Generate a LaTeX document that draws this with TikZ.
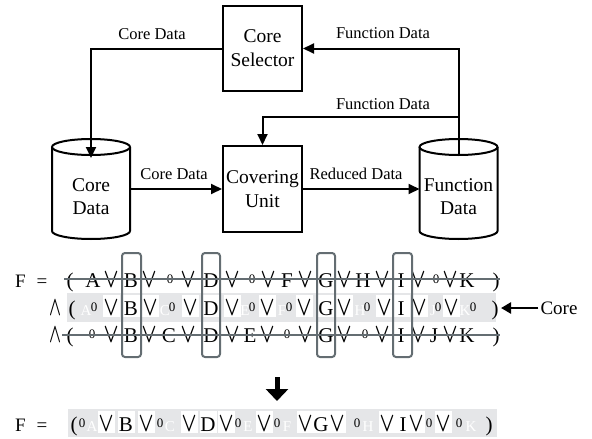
\documentclass[tikz,border=0pt]{standalone}
\usepackage{fontspec}
\setmainfont{Liberation Serif}
\usepackage{graphicx}
\usetikzlibrary{arrows.meta}
\definecolor{lgray}{RGB}{100,109,114}
\definecolor{bandgray}{RGB}{229,230,232}
\newcommand\orsym{\resizebox{15pt}{15pt}{\boldmath$\vee$}}
\newcommand\andsym{\resizebox{12pt}{15pt}{\boldmath$\wedge$}}
\newcommand\TK[4]{\node[#1] (#2) at (#3,\rowb) {#4};}
\newcommand\ZR[2]{\node[zero] (#1) at (#2,\rowm) {0};}
\begin{document}
\begin{tikzpicture}[x=1pt,y=-1pt,
  lbl/.style={font=\fontsize{16.5}{18}\selectfont, inner sep=0pt},
  procbox/.style={draw, line width=2pt, minimum width=79pt, minimum height=85pt, align=center, font=\fontsize{19.5}{24}\selectfont, inner sep=0pt},
  cyltxt/.style={align=center, font=\fontsize{19.5}{23}\selectfont, inner sep=0pt},
  conn/.style={line width=2pt, -{Triangle[length=11pt,width=10pt]}},
  cyl/.style={line width=2pt},
  tok/.style={font=\fontsize{21}{21}\selectfont, inner sep=0pt, anchor=base},
  feq/.style={font=\fontsize{19}{19}\selectfont, inner sep=0pt, anchor=base west},
  keep/.style={tok, fill=white, text height=20pt, text depth=2pt, minimum width=17pt},
  zero/.style={font=\fontsize{13}{13}\selectfont, inner sep=0pt, anchor=center},
  ghost/.style={font=\fontsize{15}{15}\selectfont, inner sep=0pt, anchor=base, text=white},
  strike/.style={draw=lgray, line width=1.5pt},
  corebox/.style={draw=lgray, line width=2pt, rounded corners=3pt},
  corelbl/.style={font=\fontsize{19}{19}\selectfont, inner sep=2pt},
  corearr/.style={line width=2.5pt, -{Triangle[length=10pt,width=11pt]}},
  bigarr/.style={line width=5pt, -{Triangle[length=12pt,width=22pt]}}
]
\useasboundingbox (0,0) rectangle (592,439);

% ---------- top block diagram ----------
\node[procbox] (sel) at (262.5,48.5) {Core\\Selector};
\node[procbox, minimum height=86pt] (cov) at (262.5,189) {Covering\\Unit};

% Core Data cylinder
\draw[cyl] (91,147) ellipse [x radius=39pt, y radius=8pt];
\draw[cyl] (52,147) -- (52,231) arc[start angle=180,end angle=360,x radius=39pt,y radius=8pt] -- (130,147);
\node[cyltxt] (cdtext) at (91,197) {Core\\Data};

% Function Data cylinder
\draw[cyl] (458.5,147) ellipse [x radius=39pt, y radius=8pt];
\draw[cyl] (419.5,147) -- (419.5,231) arc[start angle=180,end angle=360,x radius=39pt,y radius=8pt] -- (497.5,147);
\node[cyltxt] (fdtext) at (458.5,197) {Function\\Data};

\coordinate (cdin) at (91,158);
\coordinate (cdout) at (130,189);
\coordinate (fdin) at (419.5,189);
\coordinate (fdtop) at (458.5,155);
\coordinate (fdsplit) at (458.5,117);

\draw[conn] (sel.west) -| (cdin);
\draw[conn] (fdtop) |- (sel.east);
\draw[conn] (fdsplit) -| (cov.north);
\draw[conn] (cdout) -- (cov.west);
\draw[conn] (cov.east) -- (fdin);

\node[lbl] (l1) at (152,34) {Core Data};
\node[lbl] (l2) at (383,33) {Function Data};
\node[lbl] (l3) at (383,104) {Function Data};
\node[lbl] (l4) at (174,174) {Core Data};
\node[lbl] (l5) at (356,174) {Reduced Data};

% ---------- bands ----------
\fill[bandgray] (67,293) rectangle (496,322);
\fill[bandgray] (68,409) rectangle (497,437);

% ---------- row 1 ----------
\def\rowb{287}\def\rowm{279.5}
\node[feq] (f1) at (15,\rowb) {F\hspace{11pt}=};
\TK{tok}{a1}{70}{(}
\TK{tok}{a2}{93}{A}
\TK{tok}{a3}{111}{\orsym}
\TK{tok}{a4}{131}{B}
\TK{tok}{a5}{149}{\orsym}
\ZR{a6}{170}
\TK{tok}{a7}{188}{\orsym}
\TK{tok}{a8}{211}{D}
\TK{tok}{a9}{232}{\orsym}
\ZR{a10}{252}
\TK{tok}{a11}{268}{\orsym}
\TK{tok}{a12}{287}{F}
\TK{tok}{a13}{305}{\orsym}
\TK{tok}{a14}{326}{G}
\TK{tok}{a15}{344}{\orsym}
\TK{tok}{a16}{363}{H}
\TK{tok}{a17}{382}{\orsym}
\TK{tok}{a18}{401}{I}
\TK{tok}{a19}{418}{\orsym}
\ZR{a20}{436}
\TK{tok}{a21}{450}{\orsym}
\TK{tok}{a22}{467}{K}
\TK{tok}{a23}{496}{)}

% ---------- row 2 ----------
\def\rowb{315}\def\rowm{307.5}
\TK{tok}{b0}{55}{\andsym}
\TK{tok}{b1}{72}{(}
\TK{ghost}{b2}{86}{A}\ZR{b3}{94}
\TK{keep}{b4}{111}{\orsym}
\TK{keep}{b5}{131}{B}
\TK{keep}{b6}{150}{\orsym}
\TK{ghost}{b7}{165}{C}\ZR{b8}{172}
\TK{keep}{b9}{190}{\orsym}
\TK{keep}{b10}{211}{D}
\TK{keep}{b11}{232}{\orsym}
\TK{ghost}{b12}{245}{E}\ZR{b13}{252}
\TK{keep}{b14}{267}{\orsym}
\TK{ghost}{b15}{282}{F}\ZR{b16}{289}
\TK{keep}{b17}{304}{\orsym}
\TK{keep}{b18}{326}{G}
\TK{keep}{b19}{344}{\orsym}
\TK{ghost}{b20}{360}{H}\ZR{b21}{367}
\TK{keep}{b22}{384}{\orsym}
\TK{keep}{b23}{401}{I}
\TK{keep}{b24}{419}{\orsym}
\TK{ghost}{b25}{433}{J}\ZR{b26}{438}
\TK{keep}{b27}{451}{\orsym}
\TK{ghost}{b28}{465}{K}\ZR{b29}{473}
\TK{tok}{b30}{495}{)}

% ---------- row 3 ----------
\def\rowb{342}\def\rowm{334.5}
\TK{tok}{c0}{55}{\andsym}
\TK{tok}{c1}{70}{(}
\ZR{c2}{92}
\TK{tok}{c3}{111}{\orsym}
\TK{tok}{c4}{131}{B}
\TK{tok}{c5}{149}{\orsym}
\TK{tok}{c6}{169}{C}
\TK{tok}{c7}{188}{\orsym}
\TK{tok}{c8}{211}{D}
\TK{tok}{c9}{232}{\orsym}
\TK{tok}{c10}{250}{E}
\TK{tok}{c11}{267}{\orsym}
\ZR{c12}{287}
\TK{tok}{c13}{305}{\orsym}
\TK{tok}{c14}{326}{G}
\TK{tok}{c15}{344}{\orsym}
\ZR{c16}{365}
\TK{tok}{c17}{382}{\orsym}
\TK{tok}{c18}{401}{I}
\TK{tok}{c19}{418}{\orsym}
\TK{tok}{c20}{434}{J}
\TK{tok}{c21}{450}{\orsym}
\TK{tok}{c22}{467}{K}
\TK{tok}{c23}{496}{)}

% strike-through lines
\draw[strike] (64,279) -- (500,279);
\draw[strike] (62,335) -- (500,335);

% core column boxes
\draw[corebox] (122,253) rectangle (141,357);
\draw[corebox] (202,253) rectangle (220,357);
\draw[corebox] (317,253) rectangle (335,357);
\draw[corebox] (393,253) rectangle (412,357);

% Core label
\node[corelbl] (corel) at (559,308) {Core};
\coordinate (coretip) at (501,308);
\draw[corearr] (corel.west) -- (coretip);

% big arrow
\coordinate (bt) at (277,377);
\coordinate (bb) at (277,401);
\draw[bigarr] (bt) -- (bb);

% ---------- final row ----------
\def\rowb{431}\def\rowm{423.5}
\node[feq] (f2) at (15,\rowb) {F\hspace{11pt}=};
\TK{tok}{d1}{74}{(}
\ZR{d3}{82}\TK{ghost}{d2}{92}{A}
\TK{keep}{d4}{106}{\orsym}
\TK{keep}{d5}{126}{B}
\TK{keep}{d6}{146}{\orsym}
\ZR{d7}{160}\TK{ghost}{d8}{170}{C}
\TK{keep}{d9}{189}{\orsym}
\TK{keep}{d10}{208}{D}
\TK{keep}{d11}{226}{\orsym}
\ZR{d12}{238}\TK{ghost}{d13}{248}{E}
\TK{keep}{d14}{264}{\orsym}
\ZR{d15}{277}\TK{ghost}{d16}{287}{F}
\TK{keep}{d17}{305}{\orsym}
\TK{keep}{d18}{321}{G}
\TK{keep}{d19}{337}{\orsym}
\ZR{d20}{357}\TK{ghost}{d21}{368}{H}
\TK{keep}{d22}{387}{\orsym}
\TK{keep}{d23}{403}{I}
\TK{keep}{d24}{416}{\orsym}
\ZR{d25}{429}
\TK{keep}{d27}{443}{\orsym}
\ZR{d28}{459}\TK{ghost}{d29}{471}{K}
\TK{tok}{d30}{489}{)}
\end{tikzpicture}
\end{document}
